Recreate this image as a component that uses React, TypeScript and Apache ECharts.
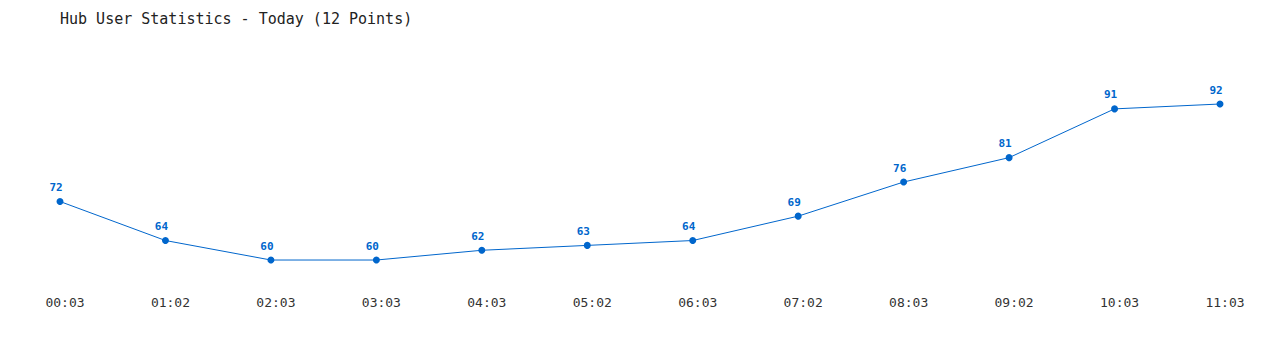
import React, { useEffect, useRef } from "react";
import * as echarts from "echarts";

const categories = ["00:03", "01:02", "02:03", "03:03", "04:03", "05:02", "06:03", "07:02", "08:03", "09:02", "10:03", "11:03"];
const users = [72, 64, 60, 60, 62, 63, 64, 69, 76, 81, 91, 92];
const titleText = "Hub User Statistics - Today (12 Points)";

const FONT = "'DejaVu Sans Mono', 'Liberation Mono', monospace";

export default function App() {
  const ref = useRef<HTMLDivElement>(null);
  useEffect(() => {
    document.body.style.margin = "0";
    const chart = echarts.init(ref.current!, null, { renderer: "svg" });
    chart.setOption({
      animation: false,
      backgroundColor: "#ffffff",
      title: {
        text: titleText,
        left: 60,
        top: 11,
        padding: 0,
        textStyle: { fontFamily: FONT, fontSize: 15, fontWeight: "normal", color: "#222" },
      },
      grid: { left: 60, right: 60, top: 65, bottom: 65.6 },
      xAxis: {
        type: "category",
        data: categories,
        boundaryGap: false,
        axisLine: { show: false },
        axisTick: { show: false },
        axisLabel: { color: "#333", fontFamily: FONT, fontSize: 13, margin: 12, padding: [0, 0, 0, 10] },
        splitLine: { show: false },
      },
      yAxis: {
        type: "value",
        min: 55,
        max: 100,
        show: false,
        splitLine: { show: false },
      },
      series: [
        {
          type: "line",
          data: users,
          color: "#0066cc",
          lineStyle: { width: 1, color: "#0066cc" },
          symbol: "circle",
          symbolSize: 7,
          itemStyle: { color: "#0066cc" },
          label: {
            show: true,
            position: "top",
            distance: 5,
            offset: [-4, 0],
            color: "#0066cc",
            fontFamily: FONT,
            fontWeight: "bold",
            fontSize: 11,
          },
        },
      ],
    });
    return () => chart.dispose();
  }, []);
  return <div ref={ref} style={{ width: 1280, height: 350 }} />;
}
